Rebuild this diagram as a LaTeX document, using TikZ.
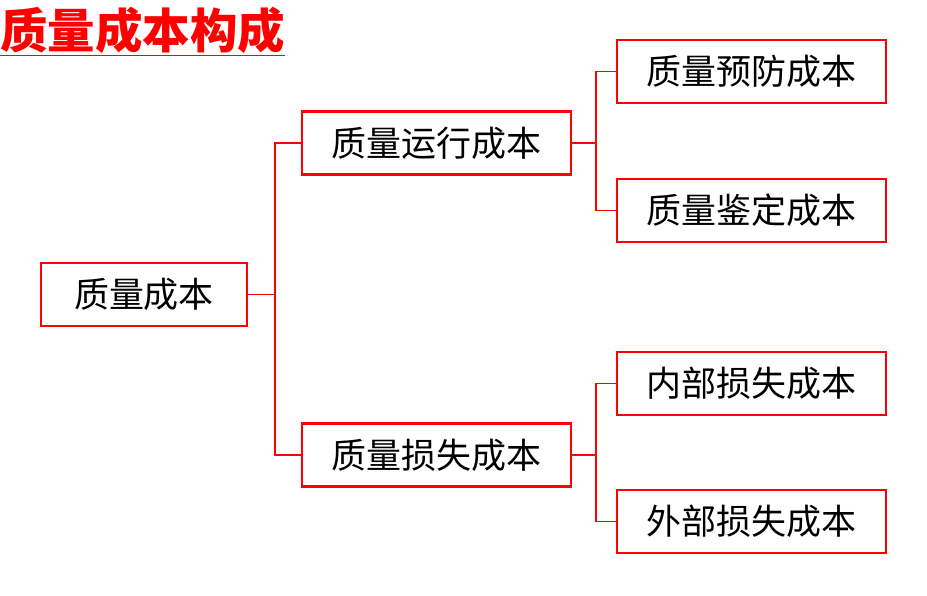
\documentclass[tikz,border=0pt]{standalone}
\usepackage{fontspec}
\setmainfont{Noto Sans CJK SC}
\tikzset{
  costbox/.style={draw=red, line width=2.6pt, fill=white, inner sep=0pt, minimum height=63pt, font=\fontsize{35}{38}\selectfont},
  conn/.style={draw=red, line width=1.8pt}
}
\begin{document}
\begin{tikzpicture}[x=1pt,y=1pt]
\useasboundingbox (0,0) rectangle (927,-595);
\node[anchor=west, text=red, font=\fontsize{47.5}{50}\selectfont\bfseries, inner sep=0pt] (title) at (0,-31) {\underline{质量成本构成}};

\node[costbox, minimum width=206pt] (total) at (144,-294.5) {质量成本};
\node[costbox, minimum width=269pt] (run) at (436.5,-143) {质量运行成本};
\node[costbox, minimum width=269pt] (loss) at (436.5,-455) {质量损失成本};
\node[costbox, minimum width=269pt] (prev) at (751.5,-71.5) {质量预防成本};
\node[costbox, minimum width=269pt] (appr) at (751.5,-210.5) {质量鉴定成本};
\node[costbox, minimum width=269pt] (intl) at (751.5,-383.5) {内部损失成本};
\node[costbox, minimum width=269pt] (extl) at (751.5,-521.5) {外部损失成本};

\draw[conn] (total.east) -- +(27,0) |- (run.west);
\draw[conn] (total.east) -- +(27,0) |- (loss.west);
\draw[conn] (run.east) -- +(24,0) |- (prev.west);
\draw[conn] (run.east) -- +(24,0) |- (appr.west);
\draw[conn] (loss.east) -- +(24,0) |- (intl.west);
\draw[conn] (loss.east) -- +(24,0) |- (extl.west);
\end{tikzpicture}
\end{document}
